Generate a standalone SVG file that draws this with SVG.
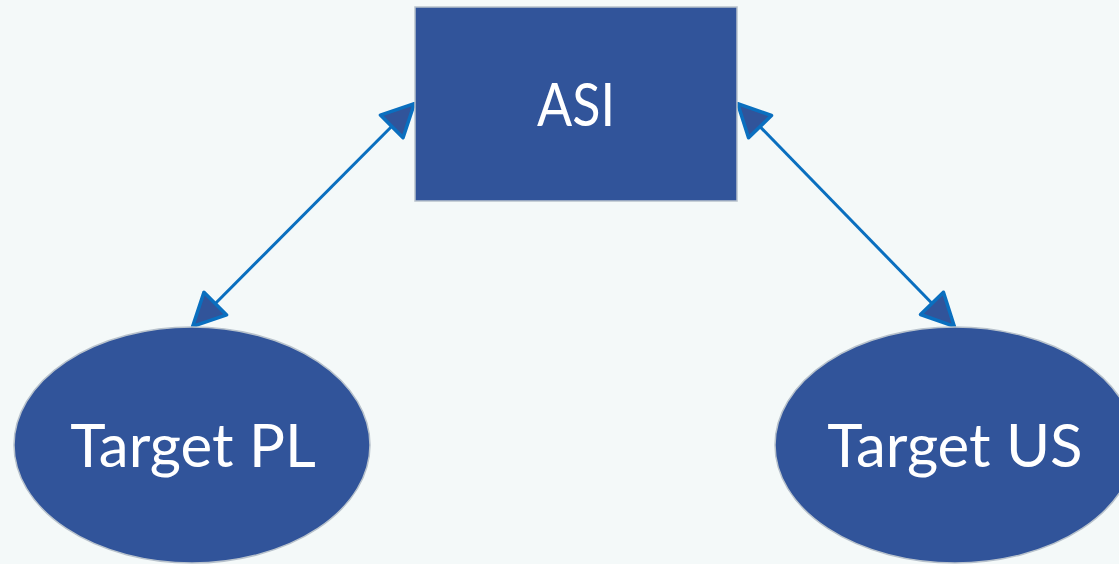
<svg xmlns="http://www.w3.org/2000/svg" width="1119" height="564" viewBox="0 0 1119 564">
  <style>
    .node { fill: #31549A; stroke: #B8C2CC; stroke-width: 1.5; }
    .label { fill: #FFFFFF; font-family: Lato, "Open Sans", sans-serif; font-size: 60px; text-anchor: middle; }
    .conn { stroke: #0A6FBF; stroke-width: 3; fill: none; }
  </style>
  <defs>
    <marker id="arrow" markerUnits="userSpaceOnUse" markerWidth="50" markerHeight="50" viewBox="-42 -25 50 50" refX="0" refY="0" orient="auto-start-reverse">
      <path d="M-1,0 L-33,-16 L-33,16 Z" fill="#31549A" stroke="#0A6FBF" stroke-width="3.5" stroke-linejoin="round"/>
    </marker>
  </defs>
  <rect width="1119" height="564" fill="#F4F9F9"/>
  <g id="connectors">
    <line class="conn" x1="192" y1="327" x2="415" y2="103" marker-start="url(#arrow)" marker-end="url(#arrow)"/>
    <line class="conn" x1="737" y1="103" x2="955" y2="327" marker-start="url(#arrow)" marker-end="url(#arrow)"/>
  </g>
  <g id="asi">
    <rect class="node" x="415" y="7" width="322" height="194"/>
    <text class="label" x="576" y="126" textLength="78" lengthAdjust="spacingAndGlyphs">ASI</text>
  </g>
  <g id="target-pl">
    <ellipse class="node" cx="192" cy="445" rx="178" ry="118"/>
    <text class="label" x="193" y="467">Target PL</text>
  </g>
  <g id="target-us">
    <ellipse class="node" cx="955" cy="445" rx="180" ry="118"/>
    <text class="label" x="955" y="467">Target US</text>
  </g>
</svg>
